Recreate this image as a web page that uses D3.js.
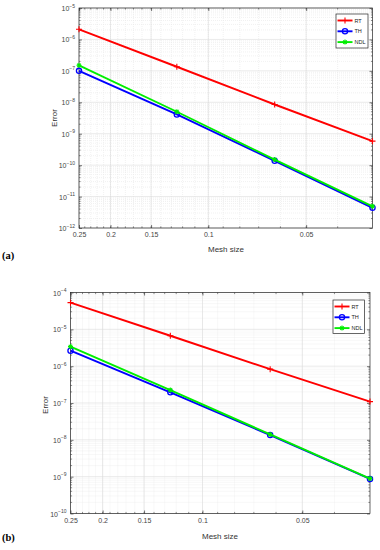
<!DOCTYPE html>
<html>
<head>
<meta charset="utf-8">
<script src="https://cdn.jsdelivr.net/npm/d3@7"></script>
<style>
  body { margin: 0; background: #fff; }
  svg { display: block; }
  text { font-family: "Liberation Sans Narrow", "Liberation Sans", Arial, sans-serif; }
</style>
</head>
<body>
<svg id="canvas" width="380" height="550"></svg>
<script>
// mesh sizes h = 1/4, 1/8, 1/16, 1/32
const meshSize = [0.25, 0.125, 0.0625, 0.03125];
const xTickVals = [0.25, 0.2, 0.15, 0.1, 0.05];
const seriesNames = ["RT", "TH", "NDL"];

// panel (a)
const errA_RT  = [2.1e-6, 1.35e-7, 8.5e-9, 5.8e-10];
const errA_TH  = [1.0e-7, 4.1e-9, 1.37e-10, 4.4e-12];
const errA_NDL = [1.5e-7, 5.0e-9, 1.5e-10, 4.9e-12];
const yExpA = [-12, -5];

// panel (b)
const errB_RT  = [5.3e-5, 6.7e-6, 8.3e-7, 1.09e-7];
const errB_TH  = [2.63e-6, 1.95e-7, 1.35e-8, 8.7e-10];
const errB_NDL = [3.4e-6, 2.25e-7, 1.4e-8, 8.9e-10];
const yExpB = [-10, -4];

const colors = {RT: "#ff0000", TH: "#0000ff", NDL: "#00ee00"};
const svg = d3.select("#canvas");

function drawPanel(cfg) {
  const g = svg.append("g");
  const x = d3.scaleLog().domain([0.25, 0.03125]).range([cfg.left, cfg.right]);
  const y = d3.scaleLog().domain([Math.pow(10, cfg.yExp[0]), Math.pow(10, cfg.yExp[1])])
              .range([cfg.bottom, cfg.top]);

  // minor grid
  const minorX = d3.range(4, 25).map(d => d / 100).filter(d => d > 0.03125 && d < 0.25);
  const minorY = [];
  for (let e = cfg.yExp[0]; e < cfg.yExp[1]; e++)
    for (let m = 2; m <= 9; m++) minorY.push(m * Math.pow(10, e));
  const majorY = d3.range(cfg.yExp[0], cfg.yExp[1] + 1).map(e => Math.pow(10, e));

  g.append("g").selectAll("line").data(minorX).join("line")
    .attr("x1", d => x(d)).attr("x2", d => x(d))
    .attr("y1", cfg.top).attr("y2", cfg.bottom)
    .attr("stroke", "#e8e8e8").attr("stroke-width", 0.6).attr("stroke-dasharray", "1,1");
  g.append("g").selectAll("line").data(minorY).join("line")
    .attr("x1", cfg.left).attr("x2", cfg.right)
    .attr("y1", d => y(d)).attr("y2", d => y(d))
    .attr("stroke", "#e8e8e8").attr("stroke-width", 0.6).attr("stroke-dasharray", "1,1");
  // major grid
  g.append("g").selectAll("line").data(xTickVals).join("line")
    .attr("x1", d => x(d)).attr("x2", d => x(d))
    .attr("y1", cfg.top).attr("y2", cfg.bottom)
    .attr("stroke", "#dcdcdc").attr("stroke-width", 0.6);
  g.append("g").selectAll("line").data(majorY).join("line")
    .attr("x1", cfg.left).attr("x2", cfg.right)
    .attr("y1", d => y(d)).attr("y2", d => y(d))
    .attr("stroke", "#dcdcdc").attr("stroke-width", 0.6);

  // axes with inward ticks on all sides
  const fmtX = d => String(d);
  const ax = [
    d3.axisBottom(x).tickValues(xTickVals).tickFormat(fmtX).tickSizeInner(-3).tickSizeOuter(0),
    d3.axisTop(x).tickValues(xTickVals).tickFormat("").tickSizeInner(-3).tickSizeOuter(0),
    d3.axisLeft(y).tickValues(majorY).tickFormat("").tickSizeInner(-3).tickSizeOuter(0),
    d3.axisRight(y).tickValues(majorY).tickFormat("").tickSizeInner(-3).tickSizeOuter(0)
  ];
  const pos = [
    `translate(0,${cfg.bottom})`, `translate(0,${cfg.top})`,
    `translate(${cfg.left},0)`, `translate(${cfg.right},0)`
  ];
  ax.forEach((a, i) => {
    const ag = g.append("g").attr("transform", pos[i]).call(a);
    ag.select(".domain").remove();
    ag.selectAll("line").attr("stroke", "#262626").attr("stroke-width", 0.6);
    ag.selectAll("text").attr("fill", "#444").attr("font-size", 7).attr("dy", "0.9em");
  });
  // minor ticks
  const minorTicks = g.append("g").attr("stroke", "#262626").attr("stroke-width", 0.5);
  minorX.forEach(d => {
    minorTicks.append("line").attr("x1", x(d)).attr("x2", x(d)).attr("y1", cfg.bottom).attr("y2", cfg.bottom - 1.6);
    minorTicks.append("line").attr("x1", x(d)).attr("x2", x(d)).attr("y1", cfg.top).attr("y2", cfg.top + 1.6);
  });
  minorY.forEach(d => {
    minorTicks.append("line").attr("x1", cfg.left).attr("x2", cfg.left + 1.6).attr("y1", y(d)).attr("y2", y(d));
    minorTicks.append("line").attr("x1", cfg.right).attr("x2", cfg.right - 1.6).attr("y1", y(d)).attr("y2", y(d));
  });

  // y tick labels 10^k
  const yl = g.append("g").selectAll("text").data(majorY).join("text")
    .attr("x", cfg.left - 4).attr("y", d => y(d) + 3)
    .attr("text-anchor", "end").attr("fill", "#444").attr("font-size", 7);
  yl.append("tspan").text("10");
  yl.append("tspan").attr("dy", -3.5).attr("font-size", 5)
    .text(d => "\u2212" + Math.round(-Math.log10(d)));

  // box
  g.append("rect").attr("x", cfg.left).attr("y", cfg.top)
    .attr("width", cfg.right - cfg.left).attr("height", cfg.bottom - cfg.top)
    .attr("fill", "none").attr("stroke", "#262626").attr("stroke-width", 0.7);

  // series
  const line = d3.line().x(d => x(d[0])).y(d => y(d[1]));
  cfg.series.forEach((vals, i) => {
    const name = seriesNames[i];
    const pts = meshSize.map((h, j) => [h, vals[j]]);
    g.append("path").datum(pts).attr("d", line)
      .attr("fill", "none").attr("stroke", colors[name]).attr("stroke-width", 1.9);
    drawMarkers(g, pts.map(p => [x(p[0]), y(p[1])]), name);
  });

  // legend
  const lg = g.append("g");
  lg.append("rect").attr("x", cfg.legend[0]).attr("y", cfg.legend[1])
    .attr("width", cfg.legend[2]).attr("height", cfg.legend[3])
    .attr("fill", "#fff").attr("stroke", "#262626").attr("stroke-width", 0.7);
  seriesNames.forEach((name, i) => {
    const ly = cfg.legend[1] + 6.5 + i * 10.8;
    const lx0 = cfg.legend[0] + 1.5, lx1 = cfg.legend[0] + 16.5;
    lg.append("line").attr("x1", lx0).attr("x2", lx1).attr("y1", ly).attr("y2", ly)
      .attr("stroke", colors[name]).attr("stroke-width", 1.9);
    drawMarkers(lg, [[(lx0 + lx1) / 2, ly]], name);
    lg.append("text").attr("x", lx1 + 2).attr("y", ly + 2).attr("font-size", 5.5)
      .attr("fill", "#222").text(name);
  });

  // axis titles
  g.append("text").attr("transform", `translate(${cfg.yTitle[0]},${cfg.yTitle[1]}) rotate(-90)`)
    .attr("text-anchor", "middle").attr("font-size", 8).attr("fill", "#333").text("Error");
  g.append("text").attr("x", cfg.xTitle[0]).attr("y", cfg.xTitle[1])
    .attr("text-anchor", "middle").attr("font-size", 8).attr("fill", "#333").text("Mesh size");

  svg.append("text").attr("x", 2).attr("y", cfg.tag[1])
    .attr("font-family", "Liberation Serif, serif").attr("font-weight", "bold")
    .attr("font-size", 10.5).attr("fill", "#000").style("font-family", "'Liberation Serif', serif")
    .text(cfg.tag[0]);
}

function drawMarkers(g, pts, name) {
  pts.forEach(p => {
    if (name === "RT") {
      g.append("path").attr("d", `M${p[0] - 3},${p[1]}H${p[0] + 3}M${p[0]},${p[1] - 3}V${p[1] + 3}`)
        .attr("stroke", colors.RT).attr("stroke-width", 1.1);
    } else if (name === "TH") {
      g.append("circle").attr("cx", p[0]).attr("cy", p[1]).attr("r", 2.6)
        .attr("fill", "none").attr("stroke", colors.TH).attr("stroke-width", 1.3);
    } else {
      g.append("path").attr("d", `M${p[0] - 2.5},${p[1]}H${p[0] + 2.5}M${p[0]},${p[1] - 2.5}V${p[1] + 2.5}M${p[0] - 1.8},${p[1] - 1.8}L${p[0] + 1.8},${p[1] + 1.8}M${p[0] - 1.8},${p[1] + 1.8}L${p[0] + 1.8},${p[1] - 1.8}`)
        .attr("stroke", colors.NDL).attr("stroke-width", 1.1);
    }
  });
}

drawPanel({
  left: 79, right: 372.5, top: 8, bottom: 228, yExp: yExpA,
  series: [errA_RT, errA_TH, errA_NDL],
  legend: [336, 14, 32, 34],
  yTitle: [57, 118], xTitle: [226, 252], tag: ["(a)", 259]
});
drawPanel({
  left: 70.5, right: 370, top: 292.5, bottom: 513.5, yExp: yExpB,
  series: [errB_RT, errB_TH, errB_NDL],
  legend: [333, 300, 31.5, 33.5],
  yTitle: [48, 405], xTitle: [220, 539], tag: ["(b)", 541]
});
</script>
</body>
</html>
